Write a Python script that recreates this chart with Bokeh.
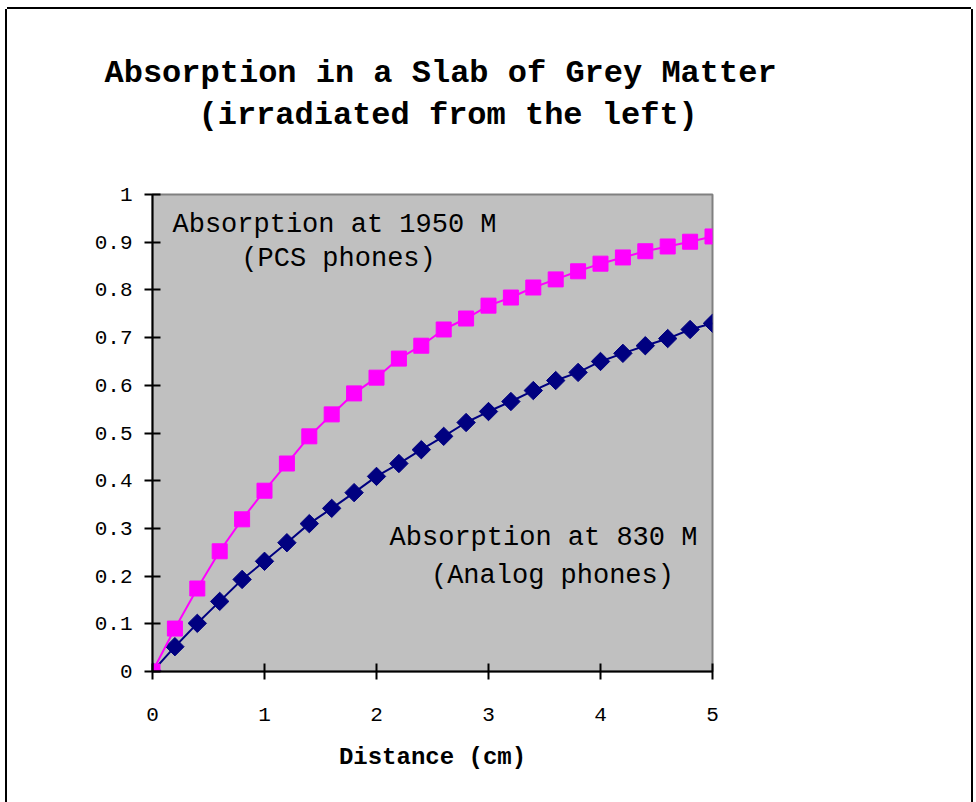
import math
from bokeh.plotting import figure
from bokeh.models import Range1d, FixedTicker, Label, Title
from bokeh.embed import file_html
from bokeh.resources import INLINE

# ---- data ----
distance = [0.0, 0.2, 0.4, 0.6, 0.8, 1.0, 1.2, 1.4, 1.6, 1.8, 2.0, 2.2, 2.4,
            2.6, 2.8, 3.0, 3.2, 3.4, 3.6, 3.8, 4.0, 4.2, 4.4, 4.6, 4.8, 5.0]
absorption_1950 = [0.000, 0.090, 0.174, 0.252, 0.319, 0.379, 0.436, 0.493, 0.539,
                   0.583, 0.616, 0.656, 0.683, 0.717, 0.740, 0.767, 0.784, 0.805,
                   0.822, 0.839, 0.855, 0.868, 0.881, 0.891, 0.901, 0.912]
absorption_830 = [0.000, 0.052, 0.101, 0.147, 0.193, 0.231, 0.270, 0.310, 0.342,
                  0.375, 0.409, 0.436, 0.465, 0.493, 0.522, 0.545, 0.566, 0.589,
                  0.610, 0.627, 0.650, 0.667, 0.683, 0.698, 0.717, 0.730]
x_ticks = [0, 1, 2, 3, 4, 5]
x_tick_labels = ["0", "1", "2", "3", "4", "5"]
y_ticks = [0, 0.1, 0.2, 0.3, 0.4, 0.5, 0.6, 0.7, 0.8, 0.9, 1]
y_tick_labels = ["0", "0.1", "0.2", "0.3", "0.4", "0.5", "0.6", "0.7", "0.8", "0.9", "1"]

MONO = "Liberation Mono"

p = figure(width=964, height=793, output_backend="svg", toolbar_location=None,
           x_range=Range1d(0, 5), y_range=Range1d(0, 1),
           min_border_left=145, min_border_right=259,
           min_border_top=185, min_border_bottom=131)

p.styles = {"margin-left": "7px", "margin-top": "9px",
            "box-shadow": "-2px 0 0 0 black, 2px 0 0 0 black, 0 -2px 0 0 black"}

p.title.visible = False
# spacer between the title block and the plot area
p.add_layout(Title(text=" ", text_font_size="1px", standoff=56), "above")
p.add_layout(Title(text="(irradiated from the left)", text_font=MONO, text_font_size="32px",
                   text_font_style="bold", align="left", offset=46, standoff=3,
                   text_color="black"), "above")
p.add_layout(Title(text="Absorption in a Slab of Grey Matter", text_font=MONO,
                   text_font_size="32px", text_font_style="bold", align="left",
                   offset=-48, standoff=3, text_color="black"), "above")

p.background_fill_color = "#C0C0C0"
p.border_fill_color = "white"
p.outline_line_color = "#808080"
p.outline_line_width = 2
p.xgrid.visible = False
p.ygrid.visible = False

for ax, ticks, labels in ((p.xaxis[0], x_ticks, x_tick_labels), (p.yaxis[0], y_ticks, y_tick_labels)):
    ax.ticker = FixedTicker(ticks=ticks, minor_ticks=[])
    ax.major_label_overrides = {t: l for t, l in zip(ticks, labels)}
    ax.axis_line_color = "black"
    ax.axis_line_width = 2
    ax.major_tick_line_color = "black"
    ax.major_tick_line_width = 2
    ax.major_tick_in = 8
    ax.major_tick_out = 8
    ax.minor_tick_line_color = None
    ax.major_label_text_font = MONO
    ax.major_label_text_font_size = "21px"
    ax.major_label_text_color = "black"

p.xaxis.major_label_standoff = 28
p.yaxis.major_label_standoff = 12
p.xaxis.axis_label = "Distance (cm)"
p.xaxis.axis_label_text_font = MONO
p.xaxis.axis_label_text_font_style = "bold"
p.xaxis.axis_label_text_font_size = "24px"
p.xaxis.axis_label_text_color = "black"
p.xaxis.axis_label_standoff = 20

# series
p.line(distance, absorption_830, line_color="#000080", line_width=2)
p.scatter(distance, absorption_830, marker="square", angle=math.pi / 4, size=13,
          fill_color="#000080", line_color="#000080")
p.line(distance, absorption_1950, line_color="#FF00FF", line_width=2)
p.scatter(distance, absorption_1950, marker="square", size=15,
          fill_color="#FF00FF", line_color="#FF00FF")

# annotations
def lab(x, y, text, size):
    p.add_layout(Label(x=x, y=y, text=text, text_font=MONO, text_font_size=size,
                       text_align="center", text_baseline="middle",
                       text_color="black"))

lab(1.625, 0.937, "Absorption at 1950 M", "27px")
lab(1.661, 0.864, "(PCS phones)", "27px")
lab(3.491, 0.279, "Absorption at 830 M", "27px")
lab(3.571, 0.201, "(Analog phones)", "27px")

open("out.html", "w").write(file_html(p, INLINE))
